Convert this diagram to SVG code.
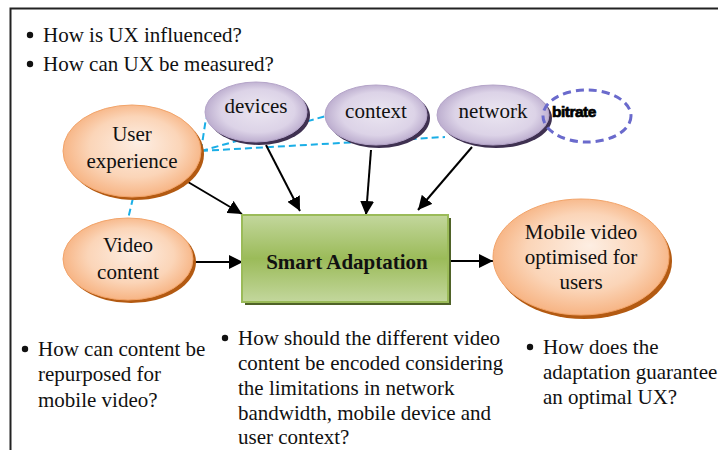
<svg xmlns="http://www.w3.org/2000/svg" width="718" height="450" viewBox="0 0 718 450">
<defs>
<radialGradient id="gOr" cx="50%" cy="50%" r="60%" fx="55%" fy="40%">
<stop offset="0" stop-color="#fdeee3"/>
<stop offset="0.55" stop-color="#fbd5b8"/>
<stop offset="1" stop-color="#f5a56c"/>
</radialGradient>
<radialGradient id="gPu" cx="50%" cy="50%" r="60%" fx="55%" fy="45%">
<stop offset="0" stop-color="#ebe6f1"/>
<stop offset="0.6" stop-color="#dcd3e7"/>
<stop offset="1" stop-color="#a997c0"/>
</radialGradient>
<linearGradient id="gGr" x1="0" y1="0" x2="0" y2="1">
<stop offset="0" stop-color="#c3d79d"/>
<stop offset="0.5" stop-color="#9bbb59"/>
<stop offset="1" stop-color="#c3d79d"/>
</linearGradient>
<marker id="ah" viewBox="0 0 10 10" refX="10" refY="5" markerWidth="14" markerHeight="14" orient="auto" markerUnits="userSpaceOnUse">
<path d="M0,0 L10,5 L0,10 z" fill="#000"/>
</marker>
</defs>
<style>
.c{text-anchor:middle}
.orShadow{fill:#b35a12}
.or{fill:url(#gOr);stroke:#f2a46a;stroke-width:1}
.puShadow{fill:#3f3151}
.pu{fill:url(#gPu);stroke:#b5a5c9;stroke-width:1}
.dash{fill:none;stroke:#1aaee6;stroke-width:2;stroke-dasharray:7,4}
.arr{stroke:#000;stroke-width:2;fill:none;marker-end:url(#ah)}
</style>
<rect width="718" height="450" fill="#fff"/>
<g id="frame">
<path d="M10.5,450 V8.5 H718" fill="none" stroke="#222" stroke-width="2"/>
</g>
<g id="top-questions" style="font-family:'Liberation Serif',serif;font-size:21px" fill="#111">
<circle cx="30" cy="35" r="3.2"/>
<text x="43" y="42">How is UX influenced?</text>
<circle cx="30" cy="64" r="3.2"/>
<text x="43" y="71">How can UX be measured?</text>
</g>
<g id="connectors">
<path class="dash" d="M201,151 L206,118 M201,151 L326,116 M201,151 L445,137 M133,198 L128,219"/>
<line class="arr" x1="188" y1="182" x2="242" y2="214"/>
<line class="arr" x1="266" y1="145" x2="300" y2="211"/>
<line class="arr" x1="371" y1="150" x2="366" y2="215"/>
<line class="arr" x1="472" y1="147" x2="418" y2="210"/>
<line class="arr" x1="192" y1="262" x2="243" y2="262"/>
<line class="arr" x1="448" y1="261" x2="493" y2="261"/>
</g>
<g id="user-experience" style="font-family:'Liberation Serif',serif;font-size:21px" fill="#111">
<ellipse class="orShadow" cx="135" cy="154" rx="69" ry="46"/>
<ellipse class="or" cx="132" cy="151" rx="69" ry="46"/>
<text class="c" x="132" y="141">User</text>
<text class="c" x="132" y="168">experience</text>
</g>
<g id="video-content" style="font-family:'Liberation Serif',serif;font-size:21px" fill="#111">
<ellipse class="orShadow" cx="131" cy="262" rx="65" ry="41"/>
<ellipse class="or" cx="128" cy="259" rx="65" ry="41"/>
<text class="c" x="128" y="252">Video</text>
<text class="c" x="128" y="279">content</text>
</g>
<g id="devices" style="font-family:'Liberation Serif',serif;font-size:21px" fill="#111">
<ellipse class="puShadow" cx="259" cy="115" rx="51" ry="30"/>
<ellipse class="pu" cx="256" cy="112" rx="51" ry="30"/>
<text class="c" x="256" y="113">devices</text>
</g>
<g id="context" style="font-family:'Liberation Serif',serif;font-size:21px" fill="#111">
<ellipse class="puShadow" cx="379" cy="118" rx="51" ry="30"/>
<ellipse class="pu" cx="376" cy="115" rx="51" ry="30"/>
<text class="c" x="376" y="118">context</text>
</g>
<g id="network" style="font-family:'Liberation Serif',serif;font-size:21px" fill="#111">
<ellipse class="puShadow" cx="496" cy="118" rx="56" ry="30"/>
<ellipse class="pu" cx="493" cy="115" rx="56" ry="30"/>
<text class="c" x="493" y="118">network</text>
</g>
<g id="bitrate">
<ellipse cx="587" cy="116" rx="44" ry="26" fill="none" stroke="#6a6acc" stroke-width="3" stroke-dasharray="8,5"/>
<text x="552" y="117" style="font-family:'Liberation Sans',sans-serif;font-size:15.5px;font-weight:bold;letter-spacing:-0.5px" fill="#000" stroke="#000" stroke-width="0.7">bitrate</text>
</g>
<g id="smart-adaptation" style="font-family:'Liberation Serif',serif;font-size:21px" fill="#111">
<rect x="245" y="218" width="206" height="87" fill="#4f6228"/>
<rect x="242" y="215" width="206" height="87" fill="url(#gGr)" stroke="#9bbb59" stroke-width="2"/>
<text class="c" x="347" y="269" font-weight="bold">Smart Adaptation</text>
</g>
<g id="mobile-video" style="font-family:'Liberation Serif',serif;font-size:21px" fill="#111">
<ellipse class="orShadow" cx="584" cy="261" rx="88" ry="58"/>
<ellipse class="or" cx="581" cy="257" rx="88" ry="58"/>
<text class="c" x="581" y="239">Mobile video</text>
<text class="c" x="581" y="264">optimised for</text>
<text class="c" x="581" y="289">users</text>
</g>
<g id="bottom-left-question" style="font-family:'Liberation Serif',serif;font-size:21px" fill="#111">
<circle cx="25" cy="349" r="3.2"/>
<text x="38" y="356">How can content be</text>
<text x="38" y="381">repurposed for</text>
<text x="38" y="407">mobile video?</text>
</g>
<g id="bottom-middle-question" style="font-family:'Liberation Serif',serif;font-size:21px" fill="#111">
<circle cx="225" cy="338" r="3.2"/>
<text x="238" y="345">How should the different video</text>
<text x="238" y="370">content be encoded considering</text>
<text x="238" y="395">the limitations in network</text>
<text x="238" y="420">bandwidth, mobile device and</text>
<text x="238" y="444">user context?</text>
</g>
<g id="bottom-right-question" style="font-family:'Liberation Serif',serif;font-size:21px" fill="#111">
<circle cx="530" cy="347" r="3.2"/>
<text x="543" y="354">How does the</text>
<text x="543" y="379">adaptation guarantee</text>
<text x="543" y="404">an optimal UX?</text>
</g>
</svg>
